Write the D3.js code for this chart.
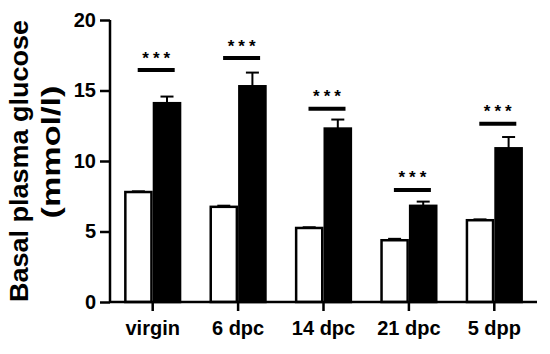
<!DOCTYPE html>
<html>
<head>
<meta charset="utf-8">
<script src="https://cdn.jsdelivr.net/npm/d3@7"></script>
<style>
  body { margin: 0; background: #fff; }
  svg { display: block; font-family: "Liberation Sans", Arial, sans-serif; }
</style>
</head>
<body>
<div id="chart"></div>
<script>
// group labels on x axis
const categories = ["virgin", "6 dpc", "14 dpc", "21 dpc", "5 dpp"];
// white bars (control) and black bars, mean and error (mmol/l)
const controlMean = [7.8, 6.75, 5.25, 4.38, 5.8];
const controlErr  = [0.05, 0.08, 0.05, 0.1, 0.06];
const treatedMean = [14.1, 15.3, 12.3, 6.82, 10.9];
const treatedErr  = [0.47, 0.97, 0.64, 0.3, 0.8];
// height of the significance line for each group, in mmol/l
const sigLevel = [16.45, 17.3, 13.7, 7.95, 12.65];
const sigText = ["***", "***", "***", "***", "***"];
const yTicks = [0, 5, 10, 15, 20];

const width = 550, height = 354;
const mLeft = 110, mRight = 537, mTop = 20, mBottom = 302;

const svg = d3.select("#chart").append("svg")
    .attr("width", width)
    .attr("height", height);

const x = d3.scaleBand()
    .domain(categories)
    .range([mLeft, mRight])
    .paddingInner(0.33)
    .paddingOuter(0.165);

const sub = d3.scaleBand()
    .domain(["control", "treated"])
    .range([0, x.bandwidth()]);

const y = d3.scaleLinear()
    .domain([0, 20])
    .range([mBottom, mTop]);

const rows = categories.map((c, i) => ({
  cat: c,
  bars: [
    {key: "control", mean: controlMean[i], err: controlErr[i]},
    {key: "treated", mean: treatedMean[i], err: treatedErr[i]}
  ],
  sig: sigLevel[i],
  text: sigText[i]
}));

const group = svg.append("g")
  .selectAll("g")
  .data(rows)
  .join("g")
    .attr("transform", d => `translate(${x(d.cat)},0)`);

// error bars (upper only), drawn before bars
group.selectAll(".err")
  .data(d => d.bars)
  .join("g")
    .attr("class", "err")
    .each(function(b) {
      const g = d3.select(this);
      const cx = sub(b.key) + sub.bandwidth() / 2;
      g.append("line")
        .attr("x1", cx).attr("x2", cx)
        .attr("y1", y(b.mean)).attr("y2", y(b.mean + b.err))
        .attr("stroke", "#000").attr("stroke-width", 2);
      g.append("line")
        .attr("x1", cx - 6.5).attr("x2", cx + 6.5)
        .attr("y1", y(b.mean + b.err)).attr("y2", y(b.mean + b.err))
        .attr("stroke", "#000").attr("stroke-width", 2);
    });

group.selectAll("rect")
  .data(d => d.bars)
  .join("rect")
    .attr("x", b => sub(b.key) + 1.25)
    .attr("width", sub.bandwidth() - 2.5)
    .attr("y", b => y(b.mean))
    .attr("height", b => y(0) - y(b.mean))
    .attr("fill", b => b.key === "control" ? "#fff" : "#000")
    .attr("stroke", "#000")
    .attr("stroke-width", 2.5);

// significance lines and stars
group.append("line")
    .attr("x1", x.bandwidth() / 2 - 15)
    .attr("x2", x.bandwidth() / 2 + 22)
    .attr("y1", d => y(d.sig))
    .attr("y2", d => y(d.sig))
    .attr("stroke", "#000")
    .attr("stroke-width", 4);

group.append("text")
    .attr("x", x.bandwidth() / 2 + 3.5 + 2)
    .attr("y", d => y(d.sig) - 6.5)
    .attr("text-anchor", "middle")
    .attr("font-size", 17)
    .attr("font-weight", "bold")
    .attr("letter-spacing", 4)
    .text(d => d.text);

// axes
const yAxis = svg.append("g")
    .attr("transform", `translate(${mLeft},0)`)
    .call(d3.axisLeft(y).tickValues(yTicks).tickSize(10).tickPadding(4));

const xAxis = svg.append("g")
    .attr("transform", `translate(0,${mBottom})`)
    .call(d3.axisBottom(x).tickSize(9).tickPadding(10));

[yAxis, xAxis].forEach(a => {
  a.selectAll("path, line").attr("stroke", "#000").attr("stroke-width", 2.5);
  a.select(".domain").attr("d", a === yAxis
      ? `M0,${mTop}V${mBottom}` : `M${mLeft},0H${mRight}`);
  a.selectAll("text")
    .attr("fill", "#000")
    .attr("font-size", 20)
    .attr("font-weight", "bold")
    .attr("font-family", "Liberation Sans, Arial, sans-serif");
});

// y title, two lines
svg.append("text")
    .attr("transform", "translate(28,161) rotate(-90)")
    .attr("text-anchor", "middle")
    .attr("font-size", 25)
    .attr("font-weight", "bold")
    .attr("textLength", 282)
    .attr("lengthAdjust", "spacingAndGlyphs")
    .text("Basal plasma glucose");

svg.append("text")
    .attr("transform", "translate(60,152) rotate(-90)")
    .attr("text-anchor", "middle")
    .attr("font-size", 25)
    .attr("font-weight", "bold")
    .attr("textLength", 133)
    .attr("lengthAdjust", "spacingAndGlyphs")
    .text("(mmol/l)");
</script>
</body>
</html>
